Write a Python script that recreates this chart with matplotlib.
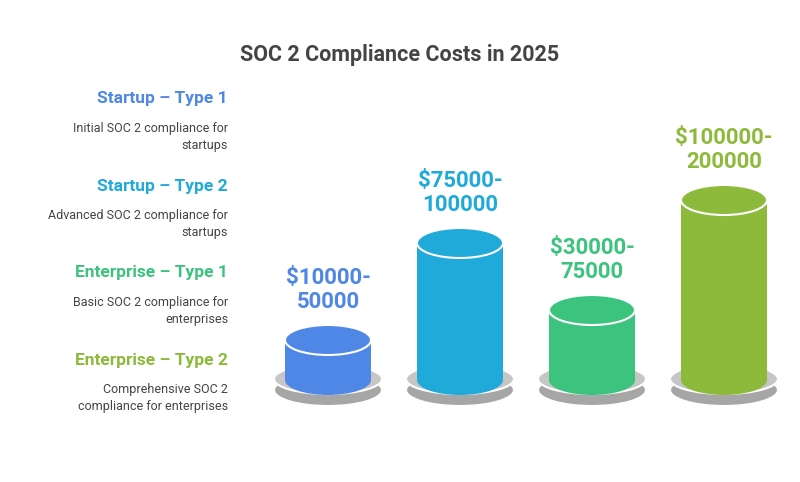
import matplotlib
matplotlib.use("Agg")
import matplotlib.pyplot as plt
from matplotlib.patches import Ellipse, Rectangle

plt.rcParams["font.family"] = "Roboto"

TITLE = "SOC 2 Compliance Costs in 2025"
names = ["Startup – Type 1", "Startup – Type 2", "Enterprise – Type 1", "Enterprise – Type 2"]
descs = ["Initial SOC 2 compliance for\nstartups",
         "Advanced SOC 2 compliance for\nstartups",
         "Basic SOC 2 compliance for\nenterprises",
         "Comprehensive SOC 2\ncompliance for enterprises"]
ranges = ["$10000-\n50000", "$75000-\n100000", "$30000-\n75000", "$100000-\n200000"]
# relative cylinder heights as drawn (pixel units)
heights = [40, 137, 70, 180]
colors = ["#4F87E6", "#1FAAD9", "#3CC47F", "#8DBA3A"]

fig = plt.figure(figsize=(8, 4.82), dpi=100)
ax = fig.add_axes([0, 0, 1, 1])
ax.set_xlim(0, 800)
ax.set_ylim(482, 0)
ax.axis("off")

ax.text(400, 55, TITLE, ha="center", va="center", fontsize=15.5, fontweight="bold", color="#444444")

for i, (n, d, c) in enumerate(zip(names, descs, colors)):
    y = 99 + 87 * i
    ax.text(228, y, n, ha="right", va="center", fontsize=12.5, fontweight="bold", color=c)
    ax.text(228, y + 38, d, ha="right", va="center", fontsize=9, color="#444444", linespacing=1.35)

bottom = 380
w, eh = 86, 30
for i, (h, c, r) in enumerate(zip(heights, colors, ranges)):
    x = 328 + 132 * i
    ax.add_patch(Ellipse((x, 390), 108, 32, facecolor="#a6a6a6", edgecolor="white", lw=1.5, zorder=1))
    ax.add_patch(Ellipse((x, 379), 108, 30, facecolor="#c6c6c6", edgecolor="white", lw=1.5, zorder=2))
    top = bottom - h
    ax.add_patch(Ellipse((x, bottom), w, eh, facecolor=c, edgecolor="none", zorder=3))
    ax.add_patch(Rectangle((x - w / 2, top), w, h, facecolor=c, edgecolor="none", zorder=3))
    ax.add_patch(Ellipse((x, top), w, eh, facecolor=c, edgecolor="white", lw=1.5, zorder=4))
    ax.text(x, top - eh / 2 - 12, r, ha="center", va="bottom", fontsize=16, fontweight="bold",
            color=c, linespacing=1.1)

fig.savefig("out.png", dpi=100, facecolor="white")
